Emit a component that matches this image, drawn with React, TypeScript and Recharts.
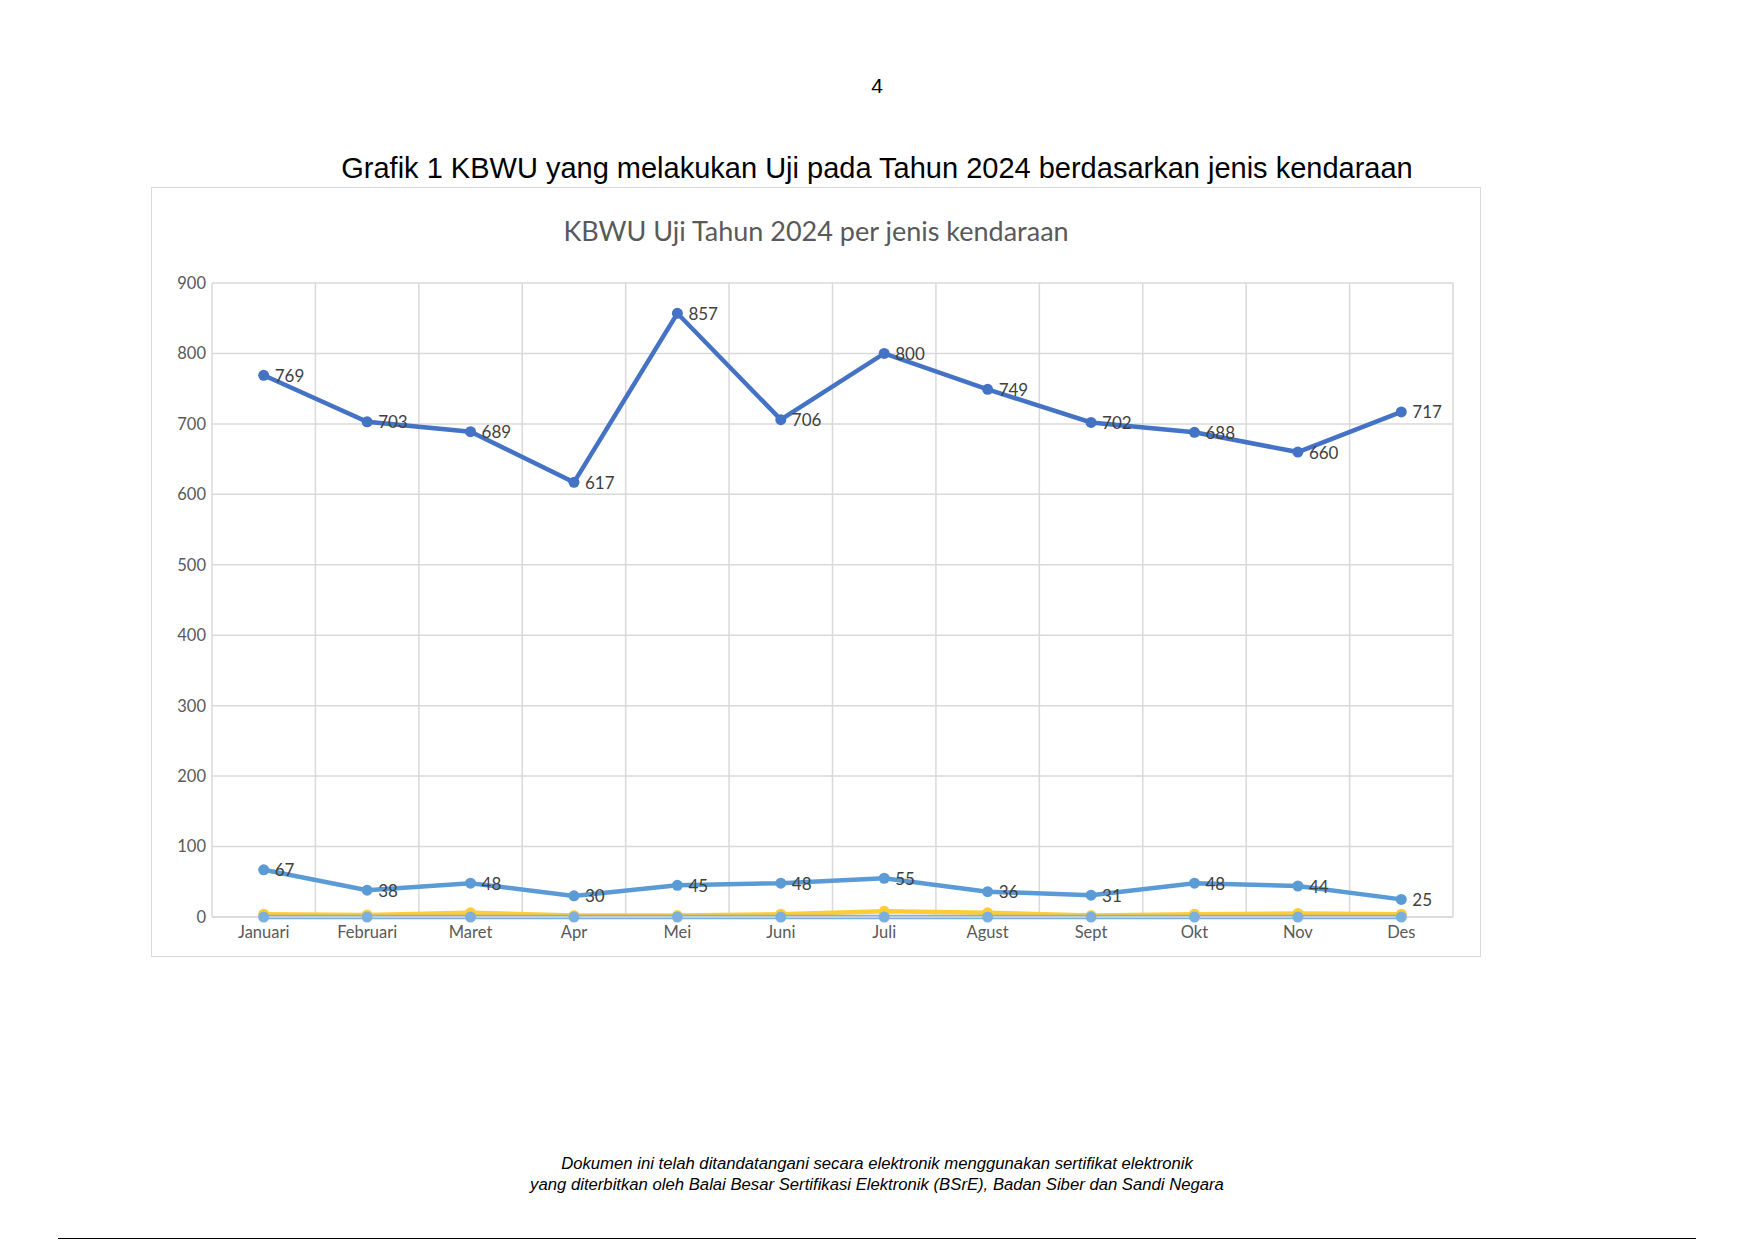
import { CartesianGrid, LabelList, Line, LineChart, XAxis, YAxis } from "recharts";

const months = ["Januari", "Februari", "Maret", "Apr", "Mei", "Juni", "Juli", "Agust", "Sept", "Okt", "Nov", "Des"];

const seriesA = [769, 703, 689, 617, 857, 706, 800, 749, 702, 688, 660, 717];
const seriesB = [67, 38, 48, 30, 45, 48, 55, 36, 31, 48, 44, 25];
const seriesC = [4, 3, 6, 2, 2, 4, 8, 6, 2, 4, 5, 4];
const seriesD = [0, 0, 0, 0, 0, 0, 0, 0, 0, 0, 0, 0];

const yTicks = [0, 100, 200, 300, 400, 500, 600, 700, 800, 900];

const data = months.map((m, i) => ({
  month: m,
  a: seriesA[i],
  b: seriesB[i],
  c: seriesC[i],
  d: seriesD[i],
}));

const FONT = "Lato, 'Open Sans', sans-serif";

function RightLabel(props: any) {
  const { x, y, value } = props;
  return (
    <text x={x + 11} y={y} dominantBaseline="central" fill="#404040" fontSize={17} fontFamily={FONT}>
      {value}
    </text>
  );
}

export default function App() {
  return (
    <div style={{ position: "absolute", left: 0, top: 0, width: 1754, height: 1241, background: "#fff" }}>
      <div
        style={{
          position: "absolute",
          top: 74,
          width: 1754,
          textAlign: "center",
          fontFamily: "'Liberation Sans', Arial, sans-serif",
          fontSize: 21,
        }}
      >
        4
      </div>
      <div
        style={{
          position: "absolute",
          top: 152,
          width: 1754,
          textAlign: "center",
          fontFamily: "'Liberation Sans', Arial, sans-serif",
          fontSize: 29,
        }}
      >
        Grafik 1 KBWU yang melakukan Uji pada Tahun 2024 berdasarkan jenis kendaraan
      </div>

      <div
        style={{
          position: "absolute",
          left: 151,
          top: 187,
          width: 1330,
          height: 770,
          border: "1px solid #d9d9d9",
          boxSizing: "border-box",
        }}
      >
        <div
          style={{
            position: "absolute",
            top: 26,
            width: "100%",
            textAlign: "center",
            fontFamily: FONT,
            fontSize: 27,
            color: "#595959",
          }}
        >
          KBWU Uji Tahun 2024 per jenis kendaraan
        </div>
        <LineChart
          width={1328}
          height={768}
          data={data}
          margin={{ top: 95, right: 27, left: 9, bottom: 8 }}
        >
          <CartesianGrid
            stroke="#d9d9d9"
            strokeWidth={1.5}
            verticalCoordinatesGenerator={({ offset }: any) =>
              Array.from({ length: months.length + 1 }, (_, i) => offset.left + (i * offset.width) / months.length)
            }
          />
          <XAxis
            dataKey="month"
            scale="band"
            tickLine={false}
            axisLine={{ stroke: "#d9d9d9", strokeWidth: 1.5 }}
            tickSize={0}
            tickMargin={9}
            height={31}
            interval={0}
            tick={{ fill: "#595959", fontSize: 16.5, fontFamily: FONT }}
          />
          <YAxis
            domain={[0, 900]}
            ticks={yTicks}
            axisLine={false}
            tickLine={false}
            tickSize={0}
            tickMargin={6}
            width={51}
            tick={{ fill: "#595959", fontSize: 16.5, fontFamily: FONT }}
          />
          <Line
            dataKey="c"
            name="Jenis C"
            stroke="#FFCD33"
            strokeWidth={4.5}
            dot={{ r: 5.5, fill: "#FFCD33", stroke: "#FFCD33", strokeWidth: 0 }}
            isAnimationActive={false}
          />
          <Line
            dataKey="d"
            name="Jenis D"
            stroke="#7CAFDD"
            strokeWidth={4.5}
            dot={{ r: 5.5, fill: "#7CAFDD", stroke: "#7CAFDD", strokeWidth: 0 }}
            isAnimationActive={false}
          />
          <Line
            dataKey="b"
            name="Jenis B"
            stroke="#5B9BD5"
            strokeWidth={4.5}
            dot={{ r: 5.5, fill: "#5B9BD5", stroke: "#5B9BD5", strokeWidth: 0 }}
            isAnimationActive={false}
          >
            <LabelList dataKey="b" content={<RightLabel />} />
          </Line>
          <Line
            dataKey="a"
            name="Jenis A"
            stroke="#4472C4"
            strokeWidth={4.5}
            dot={{ r: 5.5, fill: "#4472C4", stroke: "#4472C4", strokeWidth: 0 }}
            isAnimationActive={false}
          >
            <LabelList dataKey="a" content={<RightLabel />} />
          </Line>
        </LineChart>
      </div>

      <div
        style={{
          position: "absolute",
          top: 1153,
          width: 1754,
          textAlign: "center",
          fontFamily: "'Liberation Sans', Arial, sans-serif",
          fontStyle: "italic",
          fontSize: 16.7,
          lineHeight: "21px",
        }}
      >
        Dokumen ini telah ditandatangani secara elektronik menggunakan sertifikat elektronik
        <br />
        yang diterbitkan oleh Balai Besar Sertifikasi Elektronik (BSrE), Badan Siber dan Sandi Negara
      </div>
      <div style={{ position: "absolute", left: 58, top: 1238, width: 1638, height: 1, background: "#000" }} />
    </div>
  );
}
